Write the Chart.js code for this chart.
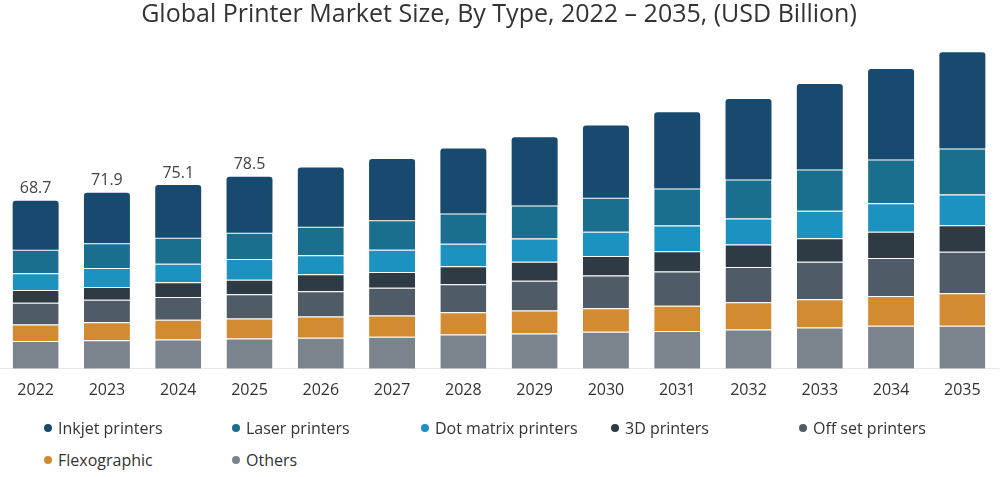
<!DOCTYPE html>
<html>
<head>
<meta charset="utf-8">
<script src="https://cdn.jsdelivr.net/npm/chart.js@4.4.1/dist/chart.umd.min.js"></script>
<style>
  html, body { margin: 0; padding: 0; background: #fff; }
  body { width: 1005px; height: 477px; overflow: hidden; font-family: "Open Sans", sans-serif; }
  .chart-box { position: relative; width: 1005px; height: 418px; }
  .legend { position: absolute; left: 0; top: 418px; width: 1005px; }
  .legend-item { position: absolute; font-size: 16px; color: #333; white-space: nowrap; line-height: 20px; }
  .legend-item i { position: absolute; left: -14px; top: 6px; width: 8px; height: 8px; border-radius: 50%; }
</style>
</head>
<body>
<div class="chart-box"><canvas id="market-chart"></canvas></div>
<div class="legend" id="legend"></div>

<script>
    "use strict";

    // categories
    var years = ["2022", "2023", "2024", "2025", "2026", "2027", "2028", "2029", "2030", "2031", "2032", "2033", "2034", "2035"];

    // series values (USD Billion)
    var inkjet    = [20.1, 20.6, 21.5, 22.9, 24.2, 25.0, 26.5, 27.9, 29.5, 31.1, 32.9, 35.0, 37.0, 39.4];
    var laser     = [9.6, 10.1, 10.7, 10.7, 11.7, 12.0, 12.4, 13.5, 13.9, 15.1, 16.0, 16.8, 17.8, 18.8];
    var dotMatrix = [6.8, 7.8, 7.5, 8.5, 7.8, 9.1, 9.2, 9.5, 9.9, 10.6, 10.6, 11.3, 11.7, 12.5];
    var threeD    = [5.2, 5.2, 6.1, 5.9, 6.9, 6.5, 7.3, 7.7, 8.0, 8.2, 9.2, 9.6, 10.7, 10.9];
    var offset    = [8.9, 9.2, 9.3, 9.9, 10.3, 11.3, 11.5, 12.2, 13.4, 14.0, 14.4, 15.3, 15.5, 16.9];
    var flexo     = [6.7, 7.3, 8.0, 8.2, 8.7, 8.7, 9.1, 9.4, 9.6, 10.4, 11.1, 11.5, 12.2, 13.3];
    var others    = [11.4, 11.7, 12.0, 12.4, 12.7, 13.1, 14.0, 14.4, 15.1, 15.4, 16.1, 16.9, 17.6, 17.6];

    // totals printed above the first bars
    var totalLabels = ["68.7", "71.9", "75.1", "78.5"];

    var sepColor = "rgba(255, 255, 255, 0.35)";

    // bottom of the stack first
    var series = [
        { label: "Others",               data: others,    color: "#7b838d" },
        { label: "Flexographic",         data: flexo,     color: "#d28b30" },
        { label: "Off set printers",     data: offset,    color: "#4f5c67" },
        { label: "3D printers",          data: threeD,    color: "#2f3b44" },
        { label: "Dot matrix printers",  data: dotMatrix, color: "#1b92bf" },
        { label: "Laser printers",       data: laser,     color: "#1a6e8e" },
        { label: "Inkjet printers",      data: inkjet,    color: "#174a6e" }
    ];

    var datasets = series.map(function (s, i) {
        var isTop = i === series.length - 1;
        return {
            label: s.label,
            data: s.data,
            backgroundColor: s.color,
            borderColor: sepColor,
            borderWidth: isTop ? 0 : { top: 1, left: 0, right: 0, bottom: 0 },
            borderSkipped: false,
            borderRadius: isTop ? { topLeft: 3, topRight: 3 } : 0,
            categoryPercentage: 1,
            barPercentage: 0.645
        };
    });

    // Totals above bars
    var totalsPlugin = {
        id: "totals",
        afterDatasetsDraw: function (chart) {
            var ctx = chart.ctx;
            var meta = chart.getDatasetMeta(chart.data.datasets.length - 1);
            ctx.save();
            ctx.font = "16px 'Open Sans'";
            ctx.fillStyle = "#444";
            ctx.textAlign = "center";
            ctx.textBaseline = "bottom";
            totalLabels.forEach(function (txt, i) {
                var bar = meta.data[i];
                ctx.fillText(txt, bar.x, bar.y - 4);
            });
            ctx.restore();
        }
    };

    new Chart(document.getElementById("market-chart"), {
        type: "bar",
        data: { labels: years, datasets: datasets },
        options: {
            responsive: true,
            maintainAspectRatio: false,
            animation: false,
            layout: { padding: { left: 0, right: 7, top: 0, bottom: 6 } },
            plugins: {
                legend: { display: false },
                tooltip: { enabled: false },
                title: {
                    display: true,
                    text: "Global Printer Market Size, By Type, 2022 \u2013 2035, (USD Billion)",
                    color: "#333",
                    font: { family: "'Open Sans'", size: 25, weight: "normal" },
                    padding: { top: 0, bottom: 6 }
                }
            },
            scales: {
                x: {
                    stacked: true,
                    grid: { display: false, drawTicks: false },
                    border: { display: true, color: "#e6e9ec" },
                    ticks: { color: "#333", font: { family: "'Open Sans'", size: 16 }, padding: 12 }
                },
                y: {
                    stacked: true,
                    display: false,
                    min: 0,
                    max: 136
                }
            }
        },
        plugins: [totalsPlugin]
    });

    // Legend laid out in columns like the reference
    var legendOrder = ["Inkjet printers", "Laser printers", "Dot matrix printers", "3D printers", "Off set printers", "Flexographic", "Others"];
    var legendCols = [58, 246, 435, 625, 813];
    var legendBox = document.getElementById("legend");
    legendOrder.forEach(function (name, i) {
        var s = series.filter(function (d) { return d.label === name; })[0];
        var item = document.createElement("div");
        item.className = "legend-item";
        item.style.left = legendCols[i % 5] + "px";
        item.style.top = (Math.floor(i / 5) * 32) + "px";
        item.innerHTML = '<i style="background:' + s.color + '"></i>' + name;
        legendBox.appendChild(item);
    });
</script>
</body>
</html>
